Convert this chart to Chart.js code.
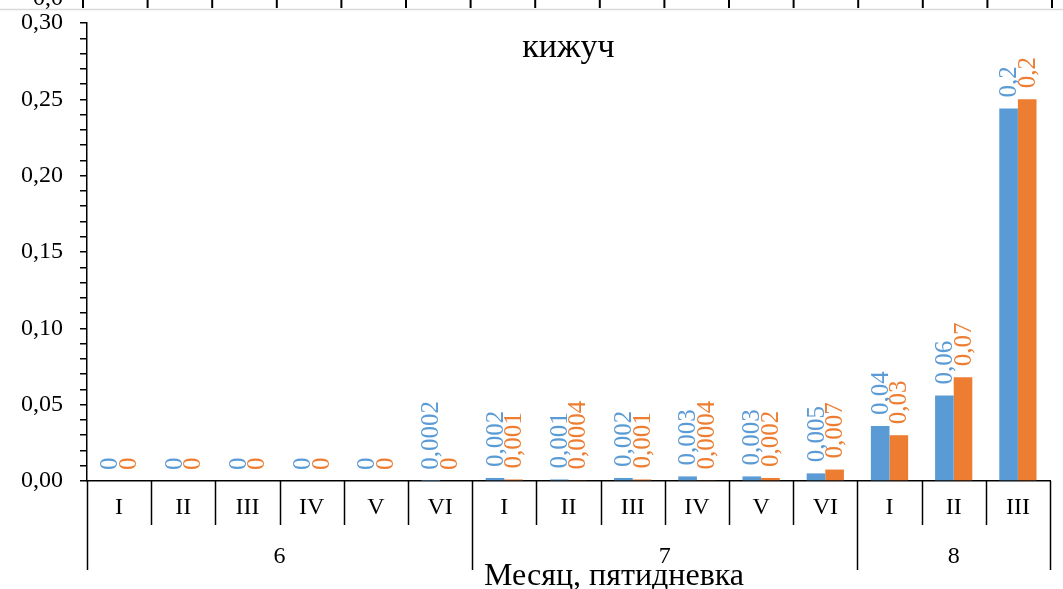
<!DOCTYPE html>
<html lang="ru">
<head>
<meta charset="utf-8">
<title>кижуч</title>
<script src="https://cdn.jsdelivr.net/npm/chart.js@4.4.0/dist/chart.umd.min.js"></script>
<style>
  html, body { margin: 0; padding: 0; background: #fff; }
  #wrap { width: 1063px; height: 589px; position: relative; }
</style>
</head>
<body>
<div id="wrap"><canvas id="chart"></canvas></div>
<script>
const periods = ["I", "II", "III", "IV", "V", "VI", "I", "II", "III", "IV", "V", "VI", "I", "II", "III"];
const months = ["6", "7", "8"];
const monthSpans = [6, 6, 3];

const seriesBlue = [0, 0, 0, 0, 0, 0.0002, 0.002, 0.001, 0.002, 0.003, 0.003, 0.005, 0.036, 0.056, 0.244];
const seriesOrange = [0, 0, 0, 0, 0, 0, 0.001, 0.0004, 0.001, 0.0004, 0.002, 0.0075, 0.030, 0.068, 0.250];

const labelsBlue = ["0", "0", "0", "0", "0", "0,0002", "0,002", "0,001", "0,002", "0,003", "0,003", "0,005", "0,04", "0,06", "0,2"];
const labelsOrange = ["0", "0", "0", "0", "0", "0", "0,001", "0,0004", "0,001", "0,0004", "0,002", "0,007", "0,03", "0,07", "0,2"];

const yTicks = [0, 0.05, 0.10, 0.15, 0.20, 0.25, 0.30];

const chartTitle = "кижуч";
const xTitle = "Месяц, пятидневка";

const BLUE = "#5B9BD5";
const ORANGE = "#ED7D31";
const SERIF = "'Liberation Serif', 'Times New Roman', serif";

// vertical value labels above each bar
const barLabels = {
  id: "barLabels",
  afterDatasetsDraw(chart) {
    const ctx = chart.ctx;
    const texts = [labelsBlue, labelsOrange];
    ctx.save();
    ctx.font = "25px " + SERIF;
    ctx.textAlign = "left";
    ctx.textBaseline = "middle";
    chart.data.datasets.forEach((ds, di) => {
      const meta = chart.getDatasetMeta(di);
      meta.data.forEach((bar, i) => {
        ctx.save();
        ctx.fillStyle = ds.backgroundColor;
        ctx.translate(bar.x + 1, bar.y - 11);
        ctx.rotate(-Math.PI / 2);
        ctx.fillText(texts[di][i], 0, 0);
        ctx.restore();
      });
    });
    ctx.restore();
  }
};

// two-level category axis, titles and the cut-off strip of the chart above
const decorations = {
  id: "decorations",
  afterDraw(chart) {
    const ctx = chart.ctx;
    const x = chart.scales.x;
    const area = chart.chartArea;
    const edge = (i) => x.getPixelForValue(i - 0.5);

    ctx.save();
    ctx.strokeStyle = "#000";
    ctx.lineWidth = 1.5;

    // category separators
    const groupEdges = [0];
    monthSpans.reduce((acc, n) => { groupEdges.push(acc + n); return acc + n; }, 0);
    for (let i = 0; i <= periods.length; i++) {
      const px = Math.round(edge(i)) + 0.5;
      const bottom = groupEdges.includes(i) ? area.bottom + 89 : area.bottom + 44;
      ctx.beginPath();
      ctx.moveTo(px, area.bottom);
      ctx.lineTo(px, bottom);
      ctx.stroke();
    }

    // month labels
    ctx.fillStyle = "#000";
    ctx.font = "24px " + SERIF;
    ctx.textAlign = "center";
    ctx.textBaseline = "middle";
    months.forEach((m, g) => {
      const mid = (edge(groupEdges[g]) + edge(groupEdges[g + 1])) / 2;
      ctx.fillText(m, mid, area.bottom + 76);
    });

    // axis title
    ctx.font = "32px " + SERIF;
    ctx.textBaseline = "alphabetic";
    ctx.fillText(xTitle, 614, 585);

    // chart title
    ctx.font = "34px " + SERIF;
    ctx.fillText(chartTitle, (area.left + area.right) / 2, 57);

    // strip left over from the chart above
    ctx.strokeStyle = "#d9d9d9";
    ctx.lineWidth = 1.5;
    ctx.beginPath();
    ctx.moveTo(0, 9.5);
    ctx.lineTo(chart.width, 9.5);
    ctx.stroke();
    ctx.strokeStyle = "#000";
    ctx.lineWidth = 2;
    for (let i = 0; i <= periods.length; i++) {
      const px = area.left - 4 + i * (area.right - area.left + 6) / periods.length;
      ctx.beginPath();
      ctx.moveTo(px, 0);
      ctx.lineTo(px, 8);
      ctx.stroke();
    }
    ctx.font = "24px " + SERIF;
    ctx.textAlign = "right";
    ctx.fillText("0,0", 63, 5);
    ctx.restore();
  }
};

new Chart(document.getElementById("chart"), {
  type: "bar",
  data: {
    labels: periods,
    datasets: [
      {
        label: "Ряд 1",
        data: seriesBlue,
        backgroundColor: BLUE,
        borderWidth: 0,
        categoryPercentage: 0.58,
        barPercentage: 1.0
      },
      {
        label: "Ряд 2",
        data: seriesOrange,
        backgroundColor: ORANGE,
        borderWidth: 0,
        categoryPercentage: 0.58,
        barPercentage: 1.0
      }
    ]
  },
  options: {
    responsive: true,
    maintainAspectRatio: false,
    animation: false,
    devicePixelRatio: 1,
    layout: { padding: { top: 23, right: 13, left: 0, bottom: 0 } },
    plugins: {
      legend: { display: false },
      title: { display: false },
      tooltip: { enabled: false }
    },
    scales: {
      x: {
        afterFit: (scale) => {
          scale.height = 108;
          scale.paddingLeft = 0;
          scale.paddingRight = 0;
        },
        grid: { display: true, drawOnChartArea: false, drawTicks: false },
        border: { display: true, color: "#000", width: 1.5 },
        ticks: {
          color: "#000",
          font: { family: SERIF, size: 24 },
          padding: 12,
          maxRotation: 0,
          autoSkip: false
        }
      },
      y: {
        min: 0,
        max: 0.30,
        afterFit: (scale) => {
          scale.width = 87;
          scale.paddingTop = 0;
          scale.paddingBottom = 0;
        },
        grid: { drawOnChartArea: false, drawTicks: true, tickLength: 7, color: "#000", lineWidth: 1.5 },
        border: { display: true, color: "#000", width: 1.5 },
        ticks: {
          stepSize: 0.01,
          autoSkip: false,
          color: "#000",
          padding: 17,
          font: { family: SERIF, size: 24 },
          callback: (v) => {
            const hit = yTicks.find((t) => Math.abs(t - v) < 1e-6);
            return hit === undefined ? "" : hit.toFixed(2).replace(".", ",");
          }
        }
      }
    }
  },
  plugins: [barLabels, decorations]
});
</script>
</body>
</html>
